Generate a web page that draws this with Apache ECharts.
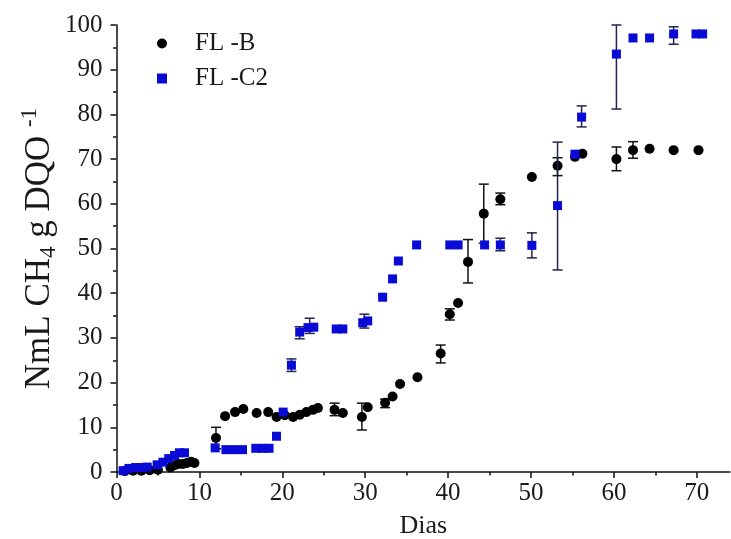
<!DOCTYPE html>
<html>
<head>
<meta charset="utf-8">
<script src="https://cdn.jsdelivr.net/npm/echarts@6/dist/echarts.min.js"></script>
<style>html,body{margin:0;padding:0;background:#fff;}#c{width:731px;height:539px;}</style>
</head>
<body>
<div id="c"></div>
<script>
// ---- data ----
var xTickValues = [0, 10, 20, 30, 40, 50, 60, 70];
var xMinorValues = [5, 15, 25, 35, 45, 55, 65];
var seriesNames = ['FL -B', 'FL -C2'];

var flBDias = [1.0, 2.0, 3.0, 4.0, 5.0, 6.5, 7.0, 7.5, 8.0, 8.5, 9.0, 9.4, 12.0, 13.1, 14.3, 15.3, 16.9, 18.3, 19.3, 20.3, 21.3, 22.1, 22.9, 23.7, 24.3, 26.3, 27.3, 29.6, 30.3, 32.4, 33.3, 34.2, 36.3, 39.1, 40.2, 41.2, 42.4, 44.3, 46.3, 50.1, 53.2, 55.3, 56.2, 60.3, 62.3, 64.3, 67.2, 70.2];
var flBVals = [0.2, 0.3, 0.3, 0.4, 0.5, 1.0, 1.5, 1.8, 1.8, 2.0, 2.3, 2.0, 7.6, 12.5, 13.4, 14.1, 13.2, 13.4, 12.3, 12.7, 12.3, 12.8, 13.4, 13.9, 14.3, 13.9, 13.2, 12.3, 14.5, 15.5, 16.9, 19.7, 21.2, 26.5, 35.3, 37.8, 47.0, 57.8, 61.0, 66.0, 68.5, 70.5, 71.2, 70.0, 72.0, 72.3, 72.0, 72.0];
var flBErrDias = [12.0, 26.3, 29.6, 32.4, 39.1, 40.2, 42.4, 44.3, 46.3, 53.2, 60.3, 62.3];
var flBErrLow = [5.2, 12.6, 9.4, 14.4, 24.4, 34.0, 42.3, 51.2, 59.8, 66.3, 67.4, 70.2];
var flBErrHigh = [10.0, 15.4, 15.4, 16.3, 28.4, 36.5, 52.0, 64.4, 62.4, 70.3, 72.7, 73.9];

var flC2Dias = [0.8, 1.5, 2.3, 3.0, 3.7, 4.9, 5.6, 6.3, 7.0, 7.6, 8.2, 11.9, 13.2, 14.2, 15.2, 16.8, 17.6, 18.4, 19.3, 20.1, 21.1, 22.1, 23.1, 23.8, 26.5, 27.3, 29.7, 30.3, 32.1, 33.3, 34.0, 36.2, 40.2, 41.2, 44.4, 46.3, 50.1, 53.2, 55.3, 56.1, 60.3, 62.3, 64.3, 67.2, 69.9, 70.7];
var flC2Vals = [0.3, 0.8, 1.0, 1.0, 1.1, 1.6, 2.2, 3.0, 3.7, 4.3, 4.3, 5.4, 5.0, 5.0, 5.0, 5.3, 5.3, 5.3, 8.0, 13.4, 23.9, 31.3, 32.3, 32.4, 32.0, 32.0, 33.4, 33.8, 39.1, 43.2, 47.2, 50.8, 50.8, 50.8, 50.8, 50.8, 50.7, 59.6, 71.1, 79.4, 93.5, 97.1, 97.1, 98.0, 98.0, 98.0];
var flC2ErrDias = [21.1, 22.1, 23.3, 29.9, 46.3, 50.1, 53.2, 56.1, 60.3, 67.2];
var flC2ErrLow = [22.5, 29.8, 31.0, 32.2, 49.5, 47.9, 45.2, 77.2, 81.2, 95.7];
var flC2ErrHigh = [25.3, 32.5, 34.4, 35.3, 52.3, 53.5, 73.8, 81.9, 100.0, 99.6];

// ---- build ----
function zip2(a, b) { return a.map(function (v, i) { return [v, b[i]]; }); }
function zip3(a, b, c) { return a.map(function (v, i) { return [v, b[i], c[i]]; }); }

function errRender(color) {
  return function (params, api) {
    var x = api.value(0), lo = api.value(1), hi = api.value(2);
    var p1 = api.coord([x, hi]), p2 = api.coord([x, lo]);
    var w = 5;
    var st = { stroke: color, lineWidth: 1.5 };
    return {
      type: 'group',
      children: [
        { type: 'line', shape: { x1: p1[0], y1: p1[1], x2: p2[0], y2: p2[1] }, style: st },
        { type: 'line', shape: { x1: p1[0] - w, y1: p1[1], x2: p1[0] + w, y2: p1[1] }, style: st },
        { type: 'line', shape: { x1: p2[0] - w, y1: p2[1], x2: p2[0] + w, y2: p2[1] }, style: st }
      ]
    };
  };
}

var FONT = "'Liberation Serif', 'Times New Roman', serif";
var TXT = '#1a1a1a';
var chart = echarts.init(document.getElementById('c'), null, { renderer: 'canvas' });
chart.setOption({
  animation: false,
  backgroundColor: '#ffffff',
  textStyle: { fontFamily: FONT },
  grid: { left: 116.5, right: 1, top: 25, bottom: 67, containLabel: false, outerBoundsMode: 'none' },
  legend: {
    orient: 'vertical', left: 152, top: 26,
    itemWidth: 10, itemHeight: 10, itemGap: 10,
    textStyle: { fontFamily: FONT, fontSize: 25, color: TXT, padding: [0, 0, 0, 23] },
    data: [
      { name: seriesNames[0], icon: 'circle' },
      { name: seriesNames[1], icon: 'rect' }
    ]
  },
  xAxis: [{
    type: 'value', min: 0, max: 74, position: 'bottom',
    name: 'Dias', nameLocation: 'middle', nameGap: 41, nameMoveOverlap: false,
    nameTextStyle: { fontFamily: FONT, fontSize: 26, color: TXT },
    splitLine: { show: false },
    axisLine: { lineStyle: { color: '#111', width: 1.5 } },
    axisTick: { customValues: xTickValues, length: 6, lineStyle: { color: '#111', width: 1.5 } },
    axisLabel: { customValues: xTickValues, fontFamily: FONT, fontSize: 25, color: TXT, margin: 9 }
  }, {
    type: 'value', min: 0, max: 74, position: 'bottom',
    splitLine: { show: false },
    axisLine: { show: false },
    axisTick: { customValues: xMinorValues, length: 3.5, lineStyle: { color: '#111', width: 1.5 } },
    axisLabel: { show: false }
  }],
  yAxis: {
    type: 'value', min: 0, max: 100, interval: 10,
    name: '{a|NmL CH}{sub|4}{a| g DQO }{sup|-1}',
    nameLocation: 'middle', nameGap: 56, nameRotate: 90, nameMoveOverlap: false,
    nameTextStyle: {
      fontFamily: FONT, fontSize: 35, color: TXT,
      rich: {
        a: { fontFamily: FONT, fontSize: 35, color: TXT, lineHeight: 42 },
        sub: { fontFamily: FONT, fontSize: 23, color: TXT, lineHeight: 23, verticalAlign: 'bottom' },
        sup: { fontFamily: FONT, fontSize: 23, color: TXT, lineHeight: 23, verticalAlign: 'top' }
      }
    },
    splitLine: { show: false },
    axisLine: { show: true, lineStyle: { color: '#111', width: 1.5 } },
    axisTick: { show: true, length: 6, lineStyle: { color: '#111', width: 1.5 } },
    minorTick: { show: true, splitNumber: 2, length: 3.5, lineStyle: { color: '#111', width: 1.5 } },
    axisLabel: { fontFamily: FONT, fontSize: 25, color: TXT, margin: 14 }
  },
  series: [
    {
      type: 'custom', name: 'errB', renderItem: errRender('#111111'),
      encode: { x: 0, y: [1, 2] }, data: zip3(flBErrDias, flBErrLow, flBErrHigh), z: 2
    },
    {
      type: 'scatter', name: seriesNames[0], symbol: 'circle', symbolSize: 10,
      itemStyle: { color: '#000000', opacity: 1 }, data: zip2(flBDias, flBVals), z: 3
    },
    {
      type: 'custom', name: 'errC2', renderItem: errRender('#23234f'),
      encode: { x: 0, y: [1, 2] }, data: zip3(flC2ErrDias, flC2ErrLow, flC2ErrHigh), z: 4
    },
    {
      type: 'scatter', name: seriesNames[1], symbol: 'rect', symbolSize: 9,
      itemStyle: { color: '#0a0ad6', opacity: 1 }, data: zip2(flC2Dias, flC2Vals), z: 5
    }
  ]
});
</script>
</body>
</html>
